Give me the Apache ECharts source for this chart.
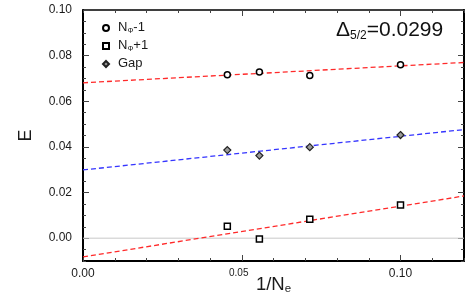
<!DOCTYPE html>
<html>
<head>
<meta charset="utf-8">
<script src="https://cdn.jsdelivr.net/npm/echarts@6/dist/echarts.min.js"></script>
<style>
html,body{margin:0;padding:0;background:#fff;}
#c{width:475px;height:300px;}
</style>
</head>
<body>
<div id="c"></div>
<script>
// ---- data ----
var invNe = [1/22, 1/18, 1/14, 1/10];
var eMinus = [0.0716, 0.0728, 0.0713, 0.0760];   // N_Phi - 1 (circles)
var ePlus  = [0.0052, -0.0004, 0.0083, 0.0145];  // N_Phi + 1 (squares)
var eGap   = [0.0386, 0.0362, 0.0399, 0.0452];   // Gap (diamonds)
// fit line endpoints (x = 0 and x = 0.12)
var fitX      = [0, 0.12];
var fitMinus  = [0.0681, 0.0770];
var fitPlus   = [-0.0082, 0.0185];
var fitGap    = [0.0299, 0.0476];
var zeroLine  = [0, 0];
var xTickLabels = [0, 0.05, 0.10];
var xMajorTicks = [0.05, 0.10];
var yTickLabels = [0, 0.02, 0.04, 0.06, 0.08, 0.10];
var deltaValue = '0.0299';
var seriesNames = ['NΦ-1', 'NΦ+1', 'Gap'];

function pairs(xs, ys){ return xs.map(function(x,i){ return [x, ys[i]]; }); }

var FONT = 'Liberation Sans, Arial, Helvetica, sans-serif';
var TXT = '#1a1a1a';

var chart = echarts.init(document.getElementById('c'), null, {renderer:'canvas'});

var gridRect = {left:83, right:11, top:10, bottom:39, outerBoundsMode:'none', containLabel:false};

function baseX(extra){
  return Object.assign({
    type:'value', min:0, max:0.12, interval:0.01,
    splitLine:{show:false},
    axisLine:{show:true, onZero:false, lineStyle:{color:'#000', width:2}},
    axisTick:{show:true, inside:true, length:3, lineStyle:{color:'#444', width:1}},
    axisLabel:{show:false}
  }, extra);
}
function baseY(extra){
  return Object.assign({
    type:'value', min:-0.01, max:0.10, interval:0.005,
    splitLine:{show:false},
    axisLine:{show:true, onZero:false, lineStyle:{color:'#000', width:2}},
    axisTick:{show:true, inside:true, length:3, lineStyle:{color:'#444', width:1}},
    axisLabel:{show:false}
  }, extra);
}
var hiddenLine = {show:false, onZero:false};
function majorTick(vals){ return {show:true, inside:true, length:6, customValues:vals, lineStyle:{color:'#444', width:1}}; }

var option = {
  animation:false,
  backgroundColor:'#fff',
  textStyle:{fontFamily:FONT},
  grid:[
    Object.assign({}, gridRect),
    Object.assign({}, gridRect)
  ],
  xAxis:[
    baseX({gridIndex:0, position:'bottom',
      axisLabel:{show:true, customValues:xTickLabels, margin:7, color:TXT, fontSize:12, fontFamily:FONT,
        formatter:function(v){ return Math.abs(v-0.05)<1e-9 ? '{s|'+v.toFixed(2)+'}' : v.toFixed(2); },
        rich:{s:{fontSize:10, fontFamily:FONT, color:TXT, padding:[0,6,6,0]}}},
      name:'{n|1/N}{s|e}', nameLocation:'middle', nameGap:14, nameMoveOverlap:false,
      nameTextStyle:{rich:{
        n:{fontSize:18.5, fontFamily:FONT, color:TXT, lineHeight:20, verticalAlign:'top'},
        s:{fontSize:11.5, fontFamily:FONT, color:TXT, lineHeight:3, verticalAlign:'bottom', padding:[8,0,0,0]}
      }}
    }),
    baseX({gridIndex:0, position:'top', axisLine:{show:true, onZero:false, lineStyle:{color:'#000', width:1.5}}}),
    baseX({gridIndex:1, position:'bottom', axisLine:hiddenLine, axisTick:majorTick(xMajorTicks)}),
    baseX({gridIndex:1, position:'top', axisLine:hiddenLine, axisTick:majorTick(xMajorTicks)})
  ],
  yAxis:[
    baseY({gridIndex:0, position:'left',
      axisLabel:{show:true, customValues:yTickLabels, margin:11, color:TXT, fontSize:12, fontFamily:FONT,
        formatter:function(v){ return v.toFixed(2); }},
      name:'E', nameLocation:'middle', nameGap:48, nameRotate:90, nameMoveOverlap:false,
      nameTextStyle:{fontSize:18, fontFamily:FONT, color:TXT}
    }),
    baseY({gridIndex:0, position:'right'}),
    baseY({gridIndex:1, position:'left', axisLine:hiddenLine, axisTick:majorTick(yTickLabels)}),
    baseY({gridIndex:1, position:'right', axisLine:hiddenLine, axisTick:majorTick(yTickLabels)})
  ],
  legend:{
    data:seriesNames,
    orient:'vertical', left:97, top:16,
    itemWidth:6, itemHeight:6, itemGap:4,
    formatter:function(name){
      if(name==='Gap') return '{n|Gap}';
      return '{n|N}{s|Φ}{n|'+name.slice(2)+'}';
    },
    textStyle:{padding:[0,0,0,4], fontSize:12.5, rich:{
      n:{fontSize:13, fontFamily:FONT, color:TXT, lineHeight:14, verticalAlign:'top'},
      s:{fontSize:7.5, fontFamily:FONT, color:TXT, lineHeight:5, verticalAlign:'bottom', padding:[4,0,0,0]}
    }}
  },
  graphic:[{
    type:'text', left:336, top:20, z:100,
    style:{
      text:'{a|Δ}{b|5/2}{a|='+deltaValue+'}',
      rich:{
        a:{fontSize:21, fontFamily:FONT, fill:'#111', lineHeight:22, verticalAlign:'top'},
        b:{fontSize:12, fontFamily:FONT, fill:'#111', lineHeight:6, verticalAlign:'bottom', padding:[8,0,0,0]}
      }
    }
  }],
  series:[
    {type:'line', name:'zero', xAxisIndex:0, yAxisIndex:0, data:pairs(fitX, zeroLine), symbol:'none', silent:true,
      lineStyle:{color:'#c8c8c8', width:1}, z:1},
    {type:'line', name:'fitMinus', xAxisIndex:0, yAxisIndex:0, data:pairs(fitX, fitMinus), symbol:'none',
      lineStyle:{color:'#ff2a2a', width:1.3, type:[5,3]}, z:2},
    {type:'line', name:'fitPlus', xAxisIndex:0, yAxisIndex:0, data:pairs(fitX, fitPlus), symbol:'none',
      lineStyle:{color:'#ff2a2a', width:1.3, type:[5,3]}, z:2},
    {type:'line', name:'fitGap', xAxisIndex:0, yAxisIndex:0, data:pairs(fitX, fitGap), symbol:'none',
      lineStyle:{color:'#3535ff', width:1.3, type:[5,3]}, z:2},
    {type:'scatter', name:seriesNames[0], xAxisIndex:0, yAxisIndex:0, data:pairs(invNe, eMinus),
      symbol:'circle', symbolSize:6, itemStyle:{color:'#fff', borderColor:'#000', borderWidth:1.5, opacity:1}, z:5},
    {type:'scatter', name:seriesNames[1], xAxisIndex:0, yAxisIndex:0, data:pairs(invNe, ePlus),
      symbol:'rect', symbolSize:6, itemStyle:{color:'#fff', borderColor:'#000', borderWidth:1.5, opacity:1}, z:5},
    {type:'scatter', name:seriesNames[2], xAxisIndex:0, yAxisIndex:0, data:pairs(invNe, eGap),
      symbol:'diamond', symbolSize:7, itemStyle:{color:'#9a9a9a', borderColor:'#222', borderWidth:1.2, opacity:1}, z:5}
  ]
};
chart.setOption(option);
</script>
</body>
</html>
